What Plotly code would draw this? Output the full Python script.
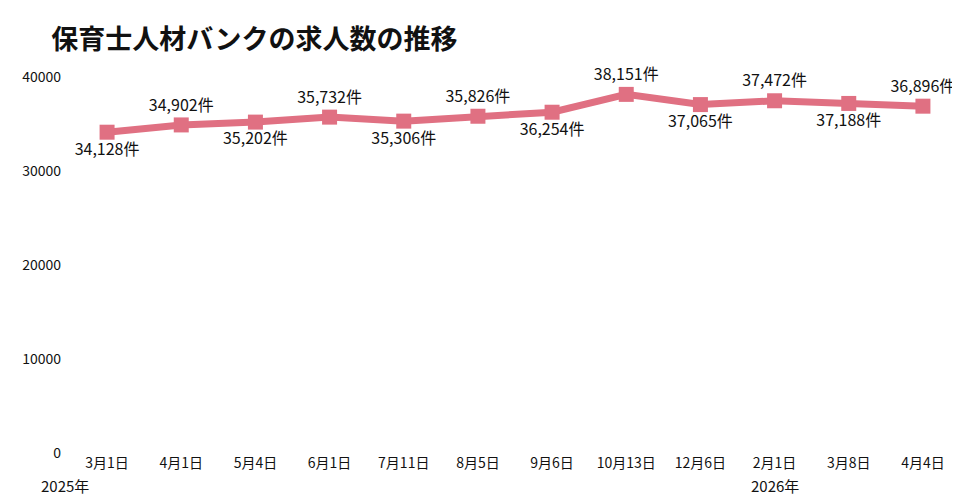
import plotly.graph_objects as go

dates = ["3月1日","4月1日","5月4日","6月1日","7月11日","8月5日","9月6日","10月13日","12月6日","2月1日","3月8日","4月4日"]
values = [34128,34902,35202,35732,35306,35826,36254,38151,37065,37472,37188,36896]
years = [("2025年", 0, -42), ("2026年", 9, 0)]
positions = ["bottom center","top center"]*6

font = "Noto Sans CJK JP"
fig = go.Figure(go.Scatter(
    x=list(range(len(dates))), y=values, mode="lines+markers+text",
    line=dict(color="#e07082", width=7),
    marker=dict(symbol="square", size=15, color="#e07082"),
    text=[f"{v:,}件" for v in values], textposition=positions,
    textfont=dict(size=16, color="#111", family=font),
    cliponaxis=False, hoverinfo="skip"))
for t, i, xs in years:
    fig.add_annotation(x=i, y=0, xref="x", yref="paper", text=t, showarrow=False,
                       yshift=-45, xshift=xs, font=dict(size=15, color="#111", family=font))
fig.update_layout(
    width=960, height=500, plot_bgcolor="white", paper_bgcolor="white",
    margin=dict(l=62, r=8, t=52, b=55), showlegend=False,
    title=dict(text="<b>保育士人材バンクの求人数の推移</b>", x=0.045, xanchor="left", y=0.955,
               font=dict(size=27, color="#111", family=font)),
    xaxis=dict(range=[-0.5, 11.5], tickvals=list(range(len(dates))), ticktext=dates,
               showgrid=False, zeroline=False, showline=False,
               tickfont=dict(size=14, color="#111", family=font)),
    yaxis=dict(range=[0, 41809], tickvals=[0,10000,20000,30000,40000], tickformat="d",
               showgrid=False, zeroline=False, tickfont=dict(size=14, color="#111", family=font),
               ticks="", ticklabelstandoff=8),
)
fig.write_html("out.html")
